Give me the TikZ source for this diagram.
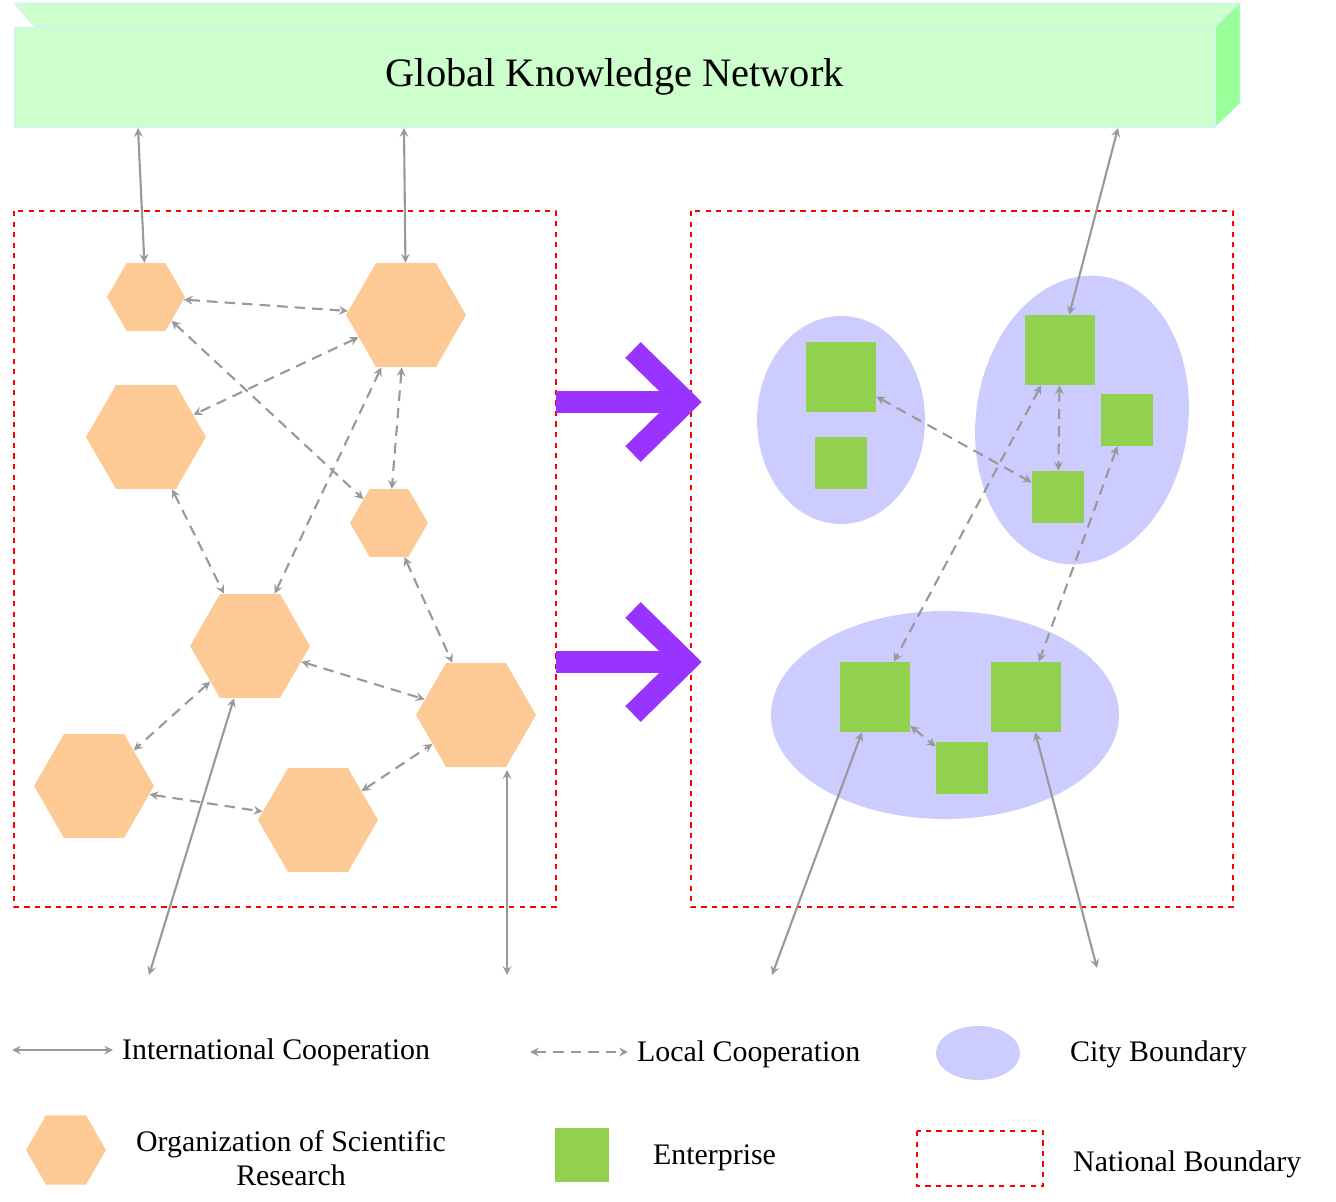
\documentclass[tikz,border=0pt]{standalone}
\usepackage{fontspec}
\setmainfont{Liberation Serif}
\usetikzlibrary{shapes.geometric,arrows,calc}
\definecolor{barfront}{HTML}{CCFFCC}
\definecolor{barside}{HTML}{99FF99}
\definecolor{hexfill}{HTML}{FDCA96}
\definecolor{cityfill}{HTML}{CCCCFF}
\definecolor{entfill}{HTML}{92D050}
\definecolor{shiftcol}{HTML}{9933FF}
\tikzstyle{bighex} = [regular polygon, regular polygon sides=6, minimum size=2.4cm, inner sep=0pt, fill=hexfill]
\tikzstyle{smallhex} = [regular polygon, regular polygon sides=6, minimum size=1.56cm, inner sep=0pt, fill=hexfill]
\tikzstyle{bigent} = [rectangle, minimum size=1.4cm, inner sep=0pt, fill=entfill]
\tikzstyle{smallent} = [rectangle, minimum size=1.04cm, inner sep=0pt, fill=entfill]
\tikzstyle{intl} = [draw=black!40, line width=1.2pt, <->, >=stealth]
\tikzstyle{local} = [draw=black!40, line width=1.2pt, dash pattern=on 6pt off 4pt, <->, >=stealth]
\tikzstyle{nation} = [draw=red, dashed, line width=0.6pt]
\tikzstyle{legend} = [anchor=west, font=\fontsize{17}{19}\selectfont]
\begin{document}
\begin{tikzpicture}[x=0.02cm, y=-0.02cm]
    \useasboundingbox (0,0) rectangle (1336,1202);

    % top bar
    \fill[barfront, draw=cyan!20] (14,3) -- (1240,3) -- (1215,27) -- (35,27) -- cycle;
    \fill[barside, draw=cyan!20] (1215,27) -- (1240,3) -- (1240,103) -- (1215,127) -- cycle;
    \node (gkn) [rectangle, fill=barfront, draw=cyan!20, minimum width=24.02cm, minimum height=2cm, anchor=north west, font=\fontsize{23}{26}\selectfont] at (14,27) {Global Knowledge Network};

    % national boundaries
    \draw[nation] (14,211) rectangle (556,907);
    \draw[nation] (691,211) rectangle (1233,907);

    % research organizations
    \node (h1) [smallhex] at (146,297) {};
    \node (h2) [bighex] at (406,315) {};
    \node (h3) [bighex] at (146,437) {};
    \node (h4) [smallhex] at (389,523) {};
    \node (h5) [bighex] at (250,646) {};
    \node (h6) [bighex] at (476,715) {};
    \node (h7) [bighex] at (94,786) {};
    \node (h8) [bighex] at (318,820) {};

    % cities
    \fill[cityfill] (841,420) ellipse [x radius=84, y radius=104];
    \fill[cityfill, rotate around={-8:(1082,420)}] (1082,420) ellipse [x radius=106, y radius=145];
    \fill[cityfill] (945,715) ellipse [x radius=174, y radius=104];

    % enterprises
    \node (s1) [bigent] at (841,377) {};
    \node (s2) [smallent] at (841,463) {};
    \node (s3) [bigent] at (1060,350) {};
    \node (s4) [smallent] at (1127,420) {};
    \node (s5) [smallent] at (1058,497) {};
    \node (s6) [bigent] at (875,697) {};
    \node (s7) [bigent] at (1026,697) {};
    \node (s8) [smallent] at (962,768) {};

    % local cooperation
    \draw[local] (h1) -- (h2);
    \draw[local] (h1) -- (h4);
    \draw[local] (h2) -- (h3);
    \draw[local] (h2) -- (h5);
    \draw[local] (h2) -- (h4);
    \draw[local] (h3) -- (h5);
    \draw[local] (h4) -- (h6);
    \draw[local] (h5) -- (h7);
    \draw[local] (h5) -- (h6);
    \draw[local] (h7) -- (h8);
    \draw[local] (h8) -- (h6);
    \draw[local] (s1) -- (s5);
    \draw[local] (s3) -- (s5);
    \draw[local] (s3) -- (s6);
    \draw[local] (s4) -- (s7);
    \draw[local] (s6) -- (s8);

    % international cooperation
    \coordinate (t1) at (138,128);
    \coordinate (t2) at (404,128);
    \coordinate (t3) at (1118,128);
    \coordinate (o1) at (149,975);
    \coordinate (o2) at (507,975);
    \coordinate (o3) at (772,975);
    \coordinate (o4) at (1097,968);
    \coordinate (h6b) at (507,770);
    \draw[intl] (t1) -- (h1);
    \draw[intl] (t2) -- (h2);
    \draw[intl] (t3) -- (s3);
    \draw[intl] (h5) -- (o1);
    \draw[intl] (h6b) -- (o2);
    \draw[intl] (s6) -- (o3);
    \draw[intl] (s7) -- (o4);

    % transition arrows
    \foreach \y in {402,662} {
        \draw[shiftcol, line width=0.44cm] (556,\y) -- (680,\y);
        \draw[shiftcol, line width=0.44cm] (633,\y-52) -- (686,\y) -- (633,\y+52);
    }

    % legend
    \coordinate (la) at (12,1050);
    \coordinate (lb) at (113,1050);
    \draw[intl] (la) -- (lb);
    \node[legend] at (116,1052) {International Cooperation};
    \coordinate (lc) at (530,1052);
    \coordinate (ld) at (628,1052);
    \draw[local] (lc) -- (ld);
    \node[legend] at (631,1054) {Local Cooperation};
    \fill[cityfill] (978,1053) ellipse [x radius=42, y radius=27];
    \node[legend] at (1064,1054) {City Boundary};
    \node (lhex) [bighex, minimum size=1.6cm] at (66,1150) {};
    \node[font=\fontsize{17}{19}\selectfont, align=center] at (291,1158) {Organization of Scientific\\Research};
    \node (lent) [bigent, minimum size=1.08cm] at (582,1155) {};
    \node[legend] at (647,1158) {Enterprise};
    \draw[nation] (917,1131) rectangle (1043,1186);
    \node[legend] at (1067,1164) {National Boundary};
\end{tikzpicture}
\end{document}
